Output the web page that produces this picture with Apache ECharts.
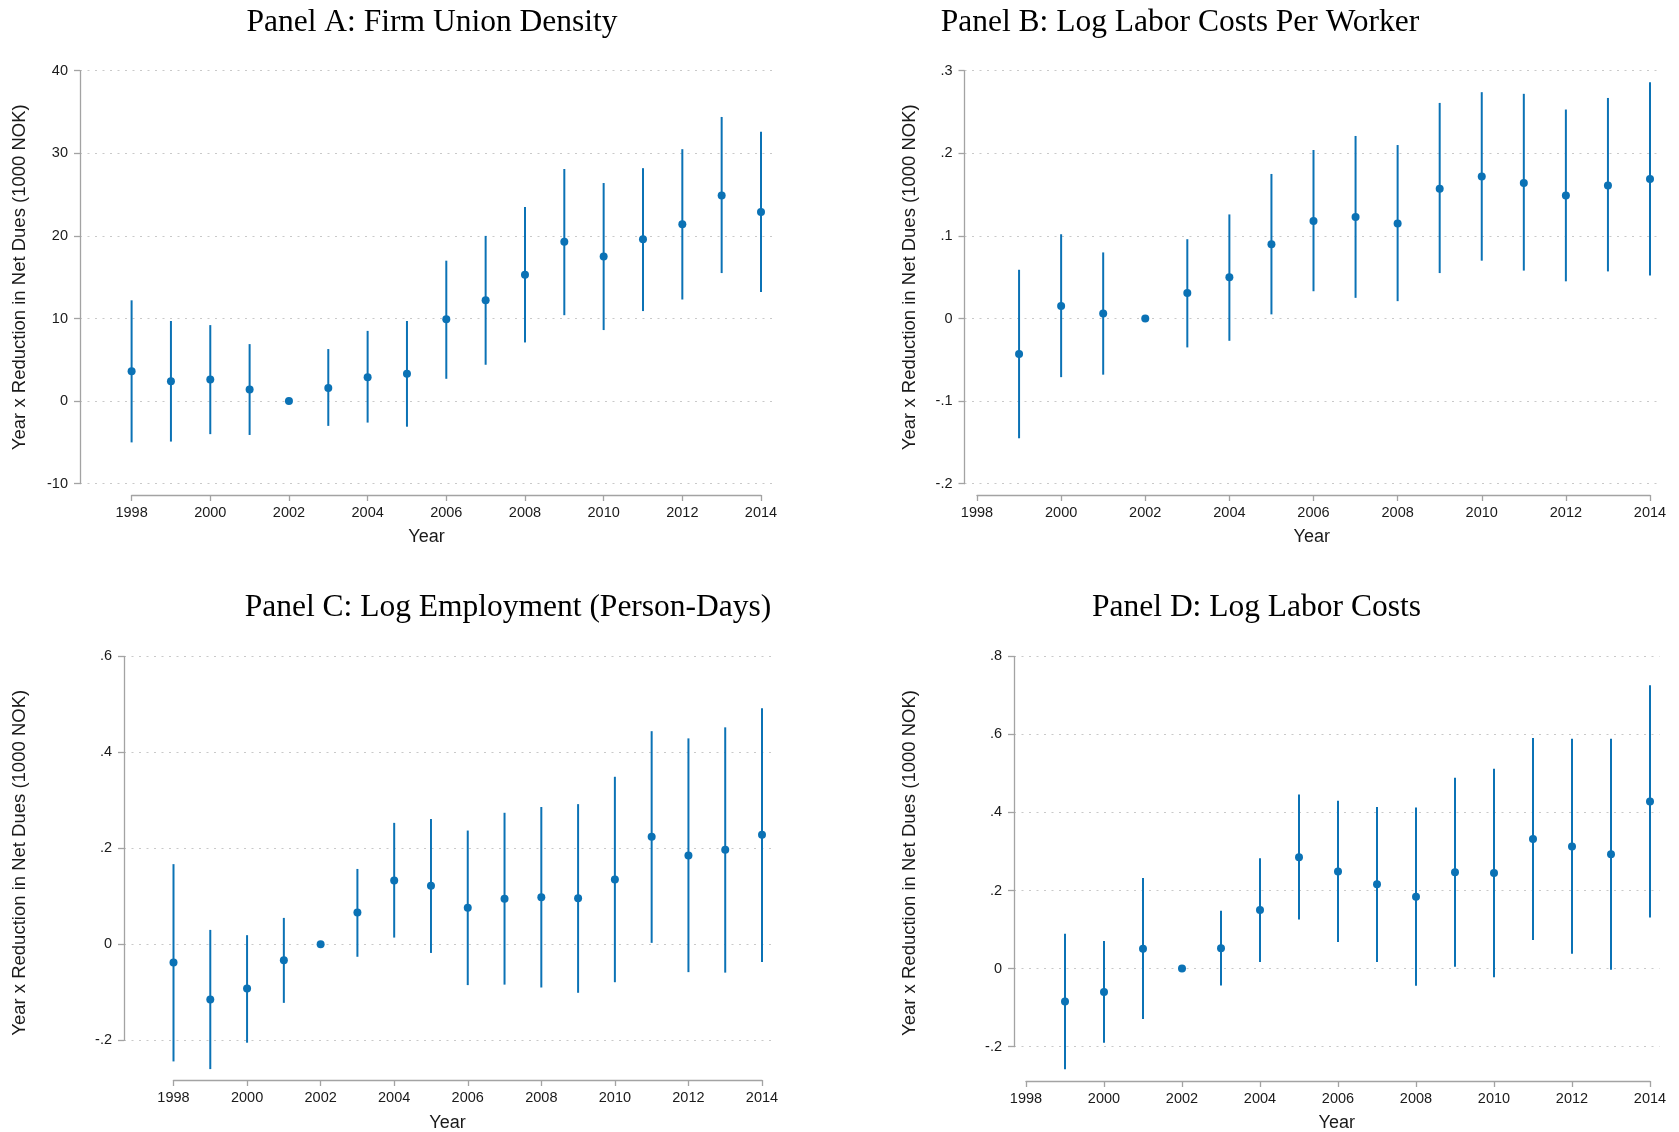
<!DOCTYPE html>
<html>
<head>
<meta charset="utf-8">
<script src="https://cdn.jsdelivr.net/npm/echarts@6/dist/echarts.min.js"></script>
<style>
html,body{margin:0;padding:0;background:#fff;}
#chart{width:1679px;height:1132px;}
</style>
</head>
<body>
<div id="chart"></div>
<script>
// ---------- DATA ----------
var titles = [
  'Panel A: Firm Union Density',
  'Panel B: Log Labor Costs Per Worker',
  'Panel C: Log Employment (Person-Days)',
  'Panel D: Log Labor Costs'
];
var xTitle = 'Year';
var yTitle = 'Year x Reduction in Net Dues (1000 NOK)';

var yearsA = [1998,1999,2000,2001,2002,2003,2004,2005,2006,2007,2008,2009,2010,2011,2012,2013,2014];
var estA = [3.6, 2.4, 2.6, 1.4, 0, 1.6, 2.9, 3.3, 9.9, 12.2, 15.3, 19.3, 17.5, 19.6, 21.4, 24.9, 22.9];
var loA  = [-5.0, -4.9, -4.0, -4.1, null, -3.0, -2.6, -3.1, 2.7, 4.4, 7.1, 10.4, 8.6, 10.9, 12.3, 15.5, 13.2];
var hiA  = [12.2, 9.7, 9.2, 6.9, null, 6.3, 8.5, 9.7, 17.0, 20.0, 23.5, 28.1, 26.4, 28.2, 30.5, 34.4, 32.6];

var yearsB = [1999,2000,2001,2002,2003,2004,2005,2006,2007,2008,2009,2010,2011,2012,2013,2014];
var estB = [-0.043, 0.015, 0.006, 0, 0.031, 0.050, 0.090, 0.118, 0.123, 0.115, 0.157, 0.172, 0.164, 0.149, 0.161, 0.169];
var loB  = [-0.145, -0.071, -0.068, null, -0.035, -0.027, 0.005, 0.033, 0.025, 0.021, 0.055, 0.070, 0.058, 0.045, 0.057, 0.052];
var hiB  = [0.059, 0.102, 0.080, null, 0.096, 0.126, 0.175, 0.204, 0.221, 0.210, 0.261, 0.274, 0.272, 0.253, 0.267, 0.286];

var yearsC = [1998,1999,2000,2001,2002,2003,2004,2005,2006,2007,2008,2009,2010,2011,2012,2013,2014];
var estC = [-0.038, -0.115, -0.092, -0.033, 0, 0.066, 0.133, 0.122, 0.076, 0.095, 0.098, 0.096, 0.135, 0.224, 0.185, 0.197, 0.228];
var loC  = [-0.244, -0.260, -0.205, -0.122, null, -0.026, 0.014, -0.018, -0.085, -0.084, -0.090, -0.101, -0.079, 0.003, -0.058, -0.059, -0.037];
var hiC  = [0.167, 0.030, 0.019, 0.055, null, 0.157, 0.253, 0.261, 0.237, 0.274, 0.286, 0.292, 0.349, 0.444, 0.429, 0.452, 0.492];

var yearsD = [1999,2000,2001,2002,2003,2004,2005,2006,2007,2008,2009,2010,2011,2012,2013,2014];
var estD = [-0.084, -0.060, 0.051, 0, 0.052, 0.150, 0.285, 0.249, 0.216, 0.184, 0.247, 0.245, 0.332, 0.313, 0.293, 0.428];
var loD  = [-0.258, -0.190, -0.129, null, -0.043, 0.017, 0.126, 0.068, 0.017, -0.044, 0.005, -0.022, 0.073, 0.038, -0.003, 0.131];
var hiD  = [0.089, 0.071, 0.232, null, 0.148, 0.283, 0.446, 0.430, 0.414, 0.413, 0.489, 0.512, 0.591, 0.589, 0.589, 0.726];

var yMin = [-10, -0.2, -0.2, -0.2];
var yMax = [40, 0.3, 0.6, 0.8];
var yStep = [10, 0.1, 0.2, 0.2];
var xMin = 1998, xMax = 2014, xStep = 2;

// ---------- LAYOUT / STYLE ----------
var BLUE = '#0b72b5';
var AXIS = '#a3a3a3';
var GRID = '#c9c9c9';
var TXT = '#1a1a1a';
var SANS = '"Liberation Sans", Arial, Helvetica, sans-serif';
var SERIF = '"Liberation Serif", "Times New Roman", serif';

var panels = [
  {years: yearsA, est: estA, lo: loA, hi: hiA,
   bg: {left: 80, top: 70.7, width: 693, height: 413},
   dt: {left: 131.6, width: 629.4}, xOff: 11.3,
   title: {x: 432, y: 6.8}, yGap: 51, yPad: 0, xGap: 44.3},
  {years: yearsB, est: estB, lo: loB, hi: hiB,
   bg: {left: 964.5, top: 70.7, width: 694.5, height: 413},
   dt: {left: 977, width: 673}, xOff: 11.3,
   title: {x: 1180, y: 6.8}, yGap: 45, yPad: 0, xGap: 44.3},
  {years: yearsC, est: estC, lo: loC, hi: hiC,
   bg: {left: 124, top: 656.3, width: 647, height: 384},
   dt: {left: 173.5, width: 588.5}, xOff: 39.7,
   title: {x: 508, y: 591.8}, yGap: 94.7, yPad: 29, xGap: 73.4},
  {years: yearsD, est: estD, lo: loD, hi: hiD,
   bg: {left: 1014, top: 656.3, width: 645.5, height: 390.4},
   dt: {left: 1026, width: 624}, xOff: 34.3,
   title: {x: 1256.5, y: 591.8}, yGap: 94.5, yPad: 23, xGap: 67}
];

function fmtY(v) {
  var r = Math.round(v * 1000) / 1000;
  if (r === 0) return '0';
  var s = String(r);
  return s.replace('0.', '.');
}
function fmtX(v) { return String(Math.round(v)); }

var option = {
  backgroundColor: '#ffffff',
  animation: false,
  title: [],
  grid: [],
  xAxis: [],
  yAxis: [],
  series: []
};

panels.forEach(function (p, i) {
  option.title.push({
    text: titles[i],
    left: p.title.x,
    top: p.title.y,
    textAlign: 'center',
    padding: 0,
    textStyle: {fontFamily: SERIF, fontSize: 31.5, fontWeight: 'normal', color: '#000'}
  });
  option.grid.push({left: p.bg.left, top: p.bg.top, width: p.bg.width, height: p.bg.height,
                    containLabel: false, outerBoundsMode: 'none'});
  option.grid.push({left: p.dt.left, top: p.bg.top, width: p.dt.width, height: p.bg.height,
                    containLabel: false, outerBoundsMode: 'none'});
  var g0 = 2 * i, g1 = 2 * i + 1;
  option.xAxis.push({
    gridIndex: g0, type: 'value', min: 0, max: 1,
    axisLine: {show: false, onZero: false}, axisTick: {show: false}, axisLabel: {show: false}, splitLine: {show: false},
    name: xTitle, nameLocation: 'middle', nameGap: p.xGap,
    nameTextStyle: {fontFamily: SANS, fontSize: 18, color: TXT}
  });
  option.xAxis.push({
    gridIndex: g1, type: 'value', min: xMin, max: xMax, interval: xStep, offset: p.xOff,
    axisLine: {show: true, onZero: false, lineStyle: {color: AXIS, width: 1.3}},
    axisTick: {show: true, length: 6, lineStyle: {color: AXIS, width: 1.3}},
    axisLabel: {show: true, margin: 10.5, fontFamily: SANS, fontSize: 14.5, color: TXT,
                formatter: fmtX, showMinLabel: true, showMaxLabel: true, hideOverlap: false},
    splitLine: {show: false}
  });
  option.yAxis.push({
    gridIndex: g0, type: 'value', min: yMin[i], max: yMax[i], interval: yStep[i],
    axisLine: {show: true, onZero: false, lineStyle: {color: AXIS, width: 1.3}},
    axisTick: {show: true, length: 6, lineStyle: {color: AXIS, width: 1.3}},
    axisLabel: {show: true, margin: 12, fontFamily: SANS, fontSize: 14.5, color: TXT, formatter: fmtY},
    splitLine: {show: true, lineStyle: {color: GRID, width: 1, type: [2, 5.5]}},
    name: yTitle, nameLocation: 'middle', nameGap: p.yGap, nameRotate: 90,
    nameTextStyle: {fontFamily: SANS, fontSize: 18.5, color: TXT, padding: [0, p.yPad, 0, 0]}
  });
  option.yAxis.push({
    gridIndex: g1, type: 'value', min: yMin[i], max: yMax[i], show: false,
    axisLine: {onZero: false}, splitLine: {show: false}
  });

  var bars = [], pts = [];
  for (var k = 0; k < p.years.length; k++) {
    pts.push([p.years[k], p.est[k]]);
    if (p.lo[k] !== null && p.hi[k] !== null) bars.push([p.years[k], p.lo[k], p.hi[k]]);
  }
  option.series.push({
    type: 'custom', xAxisIndex: g1, yAxisIndex: g1, silent: true,
    encode: {x: 0, y: [1, 2]},
    data: bars,
    renderItem: function (params, api) {
      var a = api.coord([api.value(0), api.value(1)]);
      var b = api.coord([api.value(0), api.value(2)]);
      return {type: 'line', shape: {x1: a[0], y1: a[1], x2: b[0], y2: b[1]},
              style: {stroke: BLUE, lineWidth: 2}};
    },
    z: 2
  });
  option.series.push({
    type: 'scatter', xAxisIndex: g1, yAxisIndex: g1, silent: true,
    symbol: 'circle', symbolSize: 8,
    itemStyle: {color: BLUE, opacity: 1},
    data: pts, z: 3
  });
});

var chart = echarts.init(document.getElementById('chart'), null, {renderer: 'canvas', width: 1679, height: 1132});
chart.setOption(option);
</script>
</body>
</html>
